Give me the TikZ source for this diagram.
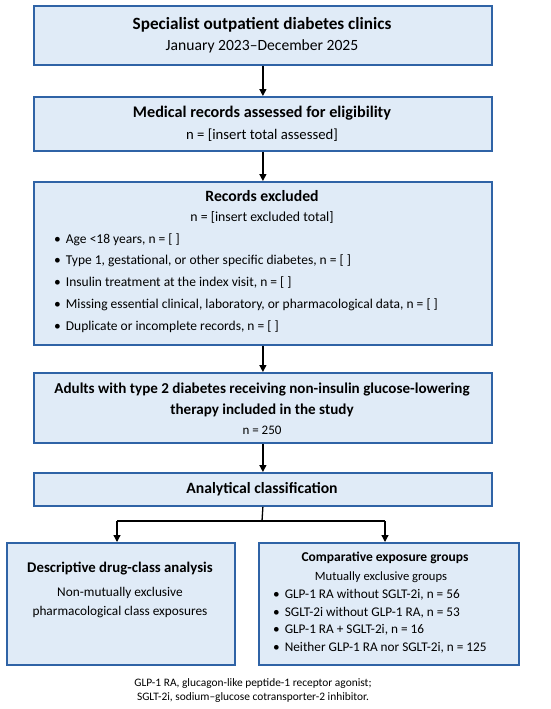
\documentclass[tikz,border=0pt]{standalone}
\usepackage{fontspec}
\setmainfont{Carlito}
\usetikzlibrary{arrows.meta}
\definecolor{boxfill}{HTML}{E0EBF7}
\definecolor{boxdraw}{HTML}{2F63A6}
\newcommand{\fsz}[1]{\fontsize{#1}{#1}\selectfont}
\begin{document}
\begin{tikzpicture}[x=1pt,y=-1pt,
  box/.style={draw=boxdraw,fill=boxfill,line width=1.8pt,inner sep=0pt,anchor=north west},
  ttl/.style={font=\fsz{15}\bfseries,inner sep=0pt},
  txt/.style={font=\fsz{13}, inner sep=0pt},
  btxt/.style={font=\fsz{13.5},inner sep=0pt,anchor=west},
  captxt/.style={font=\fsz{11.4},inner sep=0pt},
  arr/.style={-{Triangle[length=7pt,width=7pt]},line width=1.3pt,black}]
\useasboundingbox (0,0) rectangle (550,709);
% boxes
\node[box,minimum width=458pt,minimum height=59pt] (b1) at (33,5) {};
\node[box,minimum width=458pt,minimum height=54pt] (b2) at (33,96) {};
\node[box,minimum width=458pt,minimum height=163pt] (b3) at (33,181) {};
\node[box,minimum width=458pt,minimum height=70pt] (b4) at (33,372) {};
\node[box,minimum width=458pt,minimum height=33pt] (b5) at (33,472) {};
\node[box,minimum width=228pt,minimum height=122pt] (b6) at (6,542) {};
\node[box,minimum width=260pt,minimum height=122pt] (b7) at (258,542) {};
% texts
\node[ttl,font=\fsz{17.2}\bfseries] (t1) at (262,25) {Specialist outpatient diabetes clinics};
\node[txt,font=\fsz{15.6}] (t1b) at (262,46) {January 2023–December 2025};
\node[ttl,font=\fsz{16.2}\bfseries] (t2) at (262,113) {Medical records assessed for eligibility};
\node[txt,font=\fsz{14.7}] (t2b) at (262,135) {n = [insert total assessed]};
\node[ttl,font=\fsz{15.7}\bfseries] (t3) at (262,196) {Records excluded};
\node[txt,font=\fsz{13.8}] (t3b) at (262,217) {n = [insert excluded total]};
\node[btxt] (e1) at (54,240) {•\hspace{5pt}Age <18 years, n = [ ]};
\node[btxt] (e2) at (54,261) {•\hspace{5pt}Type 1, gestational, or other specific diabetes, n = [ ]};
\node[btxt] (e3) at (54,283) {•\hspace{5pt}Insulin treatment at the index visit, n = [ ]};
\node[btxt] (e4) at (54,305) {•\hspace{5pt}Missing essential clinical, laboratory, or pharmacological data, n = [ ]};
\node[btxt] (e5) at (54,327) {•\hspace{5pt}Duplicate or incomplete records, n = [ ]};
\node[ttl,font=\fsz{15.1}\bfseries] (t4) at (262,389) {Adults with type 2 diabetes receiving non-insulin glucose-lowering};
\node[ttl,font=\fsz{15.1}\bfseries] (t4b) at (262,410) {therapy included in the study};
\node[txt] (t4c) at (262,430) {n = 250};
\node[ttl,font=\fsz{15.7}\bfseries] (t5) at (262,489) {Analytical classification};
\node[ttl,font=\fsz{14.8}\bfseries] (t6) at (120,569) {Descriptive drug-class analysis};
\node[txt,font=\fsz{13.3}] (t6b) at (120,593) {Non-mutually exclusive};
\node[txt,font=\fsz{13.3}] (t6c) at (120,612) {pharmacological class exposures};
\node[ttl,font=\fsz{13.5}\bfseries] (t7) at (385,558) {Comparative exposure groups};
\node[txt,font=\fsz{12.6}] (t7b) at (381,577) {Mutually exclusive groups};
\node[btxt,font=\fsz{13.26}] (g1) at (273,595) {•\hspace{5pt}GLP-1 RA without SGLT-2i, n = 56};
\node[btxt,font=\fsz{13.26}] (g2) at (273,613) {•\hspace{5pt}SGLT-2i without GLP-1 RA, n = 53};
\node[btxt,font=\fsz{13.26}] (g3) at (273,630) {•\hspace{5pt}GLP-1 RA + SGLT-2i, n = 16};
\node[btxt,font=\fsz{13.26}] (g4) at (273,648) {•\hspace{5pt}Neither GLP-1 RA nor SGLT-2i, n = 125};
\node[captxt] (c1) at (253,684) {GLP-1 RA, glucagon-like peptide-1 receptor agonist;};
\node[captxt] (c2) at (253,698) {SGLT-2i, sodium–glucose cotransporter-2 inhibitor.};
% connectors
\draw[arr] (b1.south) -- (b2.north);
\draw[arr] (b2.south) -- (b3.north);
\draw[arr] (b3.south) -- (b4.north);
\draw[arr] (b4.south) -- (b5.north);
\coordinate (sp) at (262,521);
\coordinate (sl) at (117,521);
\coordinate (sr) at (385,521);
\draw[line width=1.3pt] (b5.south) -- (sp);
\draw[line width=1.3pt] (sl) -- (sr);
\draw[arr] (sl) -- (sl |- b6.north);
\draw[arr] (sr) -- (sr |- b7.north);
\end{tikzpicture}
\end{document}
